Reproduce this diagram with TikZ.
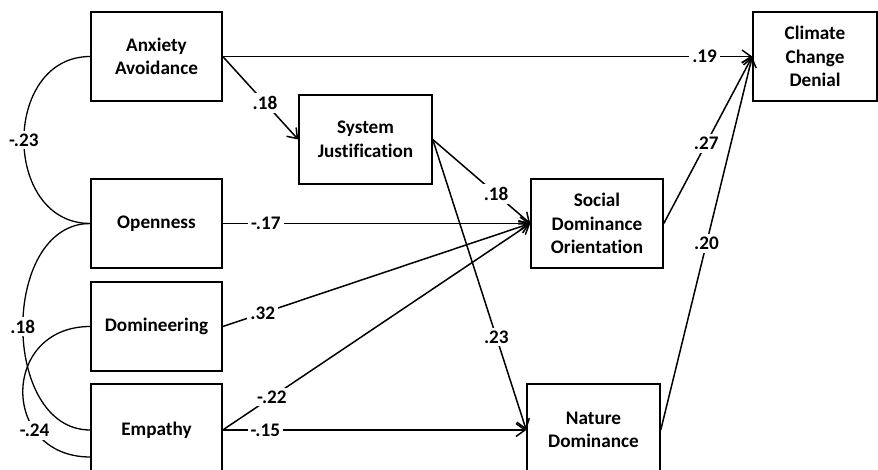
\documentclass[tikz,border=0pt]{standalone}
\usepackage{fontspec}
\setmainfont{Carlito}[Ligatures=NoCommon]
\usetikzlibrary{arrows.meta}
\begin{document}
\begin{tikzpicture}[x=1pt,y=-1pt,
  var/.style={draw,line width=1.5pt,minimum width=131pt,minimum height=89pt,
    align=center,inner sep=0pt,font=\bfseries\fontsize{19.2}{23.5}\selectfont},
  effect/.style={line width=1.5pt,-{Straight Barb[length=9pt,width=13pt,line width=1.5pt]}},
  cov/.style={line width=1.3pt},
  coef/.style={fill=white,inner sep=3pt,font=\bfseries\fontsize{19.2}{22}\selectfont},
]
\useasboundingbox (0,0) rectangle (878,470);

% predictors
\node[var] (anx)  at (156.5,56.5)  {Anxiety\\Avoidance};
\node[var] (open) at (156.5,223.5) {Openness};
\node[var] (dom)  at (156.5,326.5) {Domineering};
\node[var,minimum height=92pt] (emp) at (156.5,430) {Empathy};

% mediators and outcome
\node[var,minimum width=133pt] (sj)  at (365.5,139.5) {System\\Justification};
\node[var,minimum width=132pt] (sdo) at (597,223.5)   {Social\\Dominance\\Orientation};
\node[var,minimum width=133pt,minimum height=92pt] (nd) at (593.5,430) {Nature\\Dominance};
\node[var,minimum width=124pt] (ccd) at (815,56.5)    {Climate\\Change\\Denial};

% directed paths
\draw[effect] (anx.east) -- node[coef,pos=0.91]{.19} (ccd.west);
\draw[effect] (anx.east) -- node[coef,pos=0.56]{.18} (sj.west);
\draw[effect] (sj.east)  -- node[coef,pos=0.65]{.18} (sdo.west);
\draw[effect] (sj.east)  -- node[coef,pos=0.68]{.23} (nd.west);
\draw[effect] (open.east) -- node[coef,pos=0.14]{-.17} (sdo.west);
\draw[effect] (dom.east) -- node[coef,pos=0.13]{.32} (sdo.west);
\draw[effect] (emp.east) -- node[coef,pos=0.16]{-.22} (sdo.west);
\draw[effect] (emp.east) -- node[coef,pos=0.14]{-.15} (nd.west);
\draw[effect] (sdo.east) -- node[coef,pos=0.48]{.27} (ccd.west);
\draw[effect] (nd.east)  -- node[coef,pos=0.5]{.20} (ccd.west);

% correlations between predictors
\coordinate (empLow) at ([yshift=-27pt]emp.west);
\draw[cov] (anx.west) .. controls (1.7,56.5) and (1.7,223.5) .. node[coef,pos=0.5]{-.23} (open.west);
\draw[cov] (open.west) .. controls (0.3,223.5) and (0.3,430) .. node[coef,pos=0.5]{.18} (emp.west);
\draw[cov] (dom.west) .. controls (0.3,326.5) and (0.3,457) .. node[coef,pos=0.71]{-.24} (empLow);
\end{tikzpicture}
\end{document}
